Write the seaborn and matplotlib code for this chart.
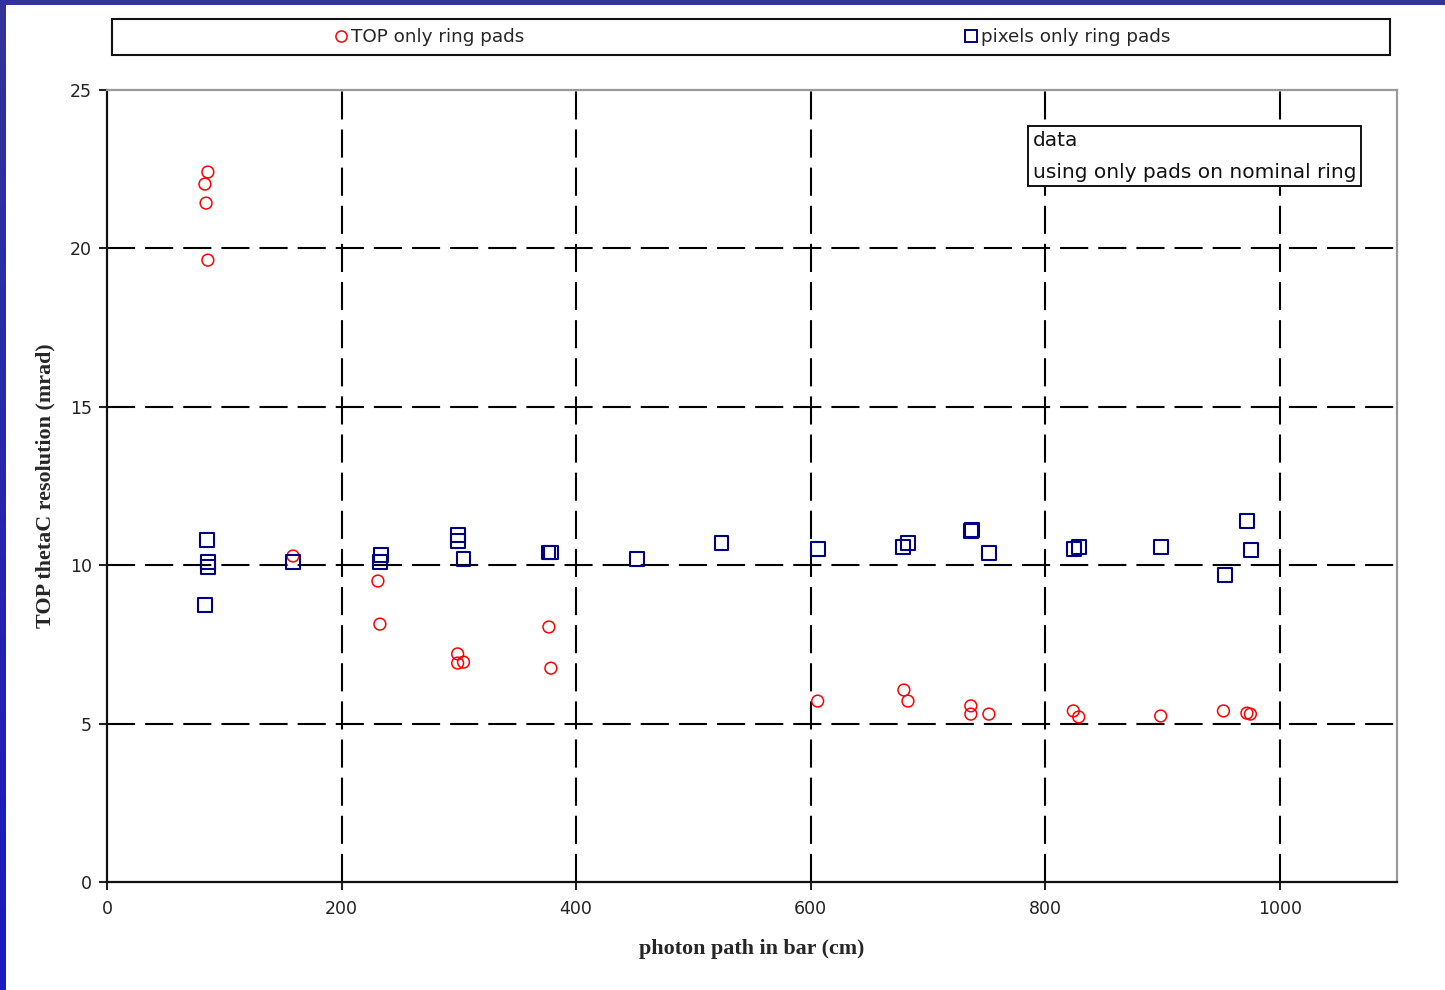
import numpy as np
import pandas as pd
import matplotlib
matplotlib.use("Agg")
import matplotlib.pyplot as plt
from matplotlib.lines import Line2D
from matplotlib.patches import Rectangle
from matplotlib.colors import LinearSegmentedColormap
import seaborn as sns

# ---- data -------------------------------------------------------------
top_path = [86, 83.5, 84.5, 86, 158.6, 231, 232.7, 299, 299, 304, 376.8, 378.5,
            606, 679.5, 683, 736.6, 736.6, 752, 824, 828.6, 898.5, 952, 972, 975]
top_res = [22.41, 22.03, 21.43, 19.63, 10.29, 9.50, 8.14, 7.20, 6.91, 6.94, 8.05, 6.75,
           5.71, 6.06, 5.71, 5.56, 5.30, 5.30, 5.40, 5.21, 5.24, 5.40, 5.33, 5.30]

pix_path = [85.3, 86, 86, 83.5, 158.6, 233.6, 232.5, 299, 299, 304, 376.5, 378.5,
            451.8, 524, 606, 678.6, 683, 736.8, 737.8, 752, 824.4, 828.6, 898.5, 953, 972, 975.3]
pix_res = [10.80, 10.10, 9.94, 8.74, 10.10, 10.32, 10.10, 10.95, 10.76, 10.20, 10.40, 10.40,
           10.20, 10.70, 10.51, 10.57, 10.70, 11.08, 11.10, 10.38, 10.51, 10.57, 10.57, 9.69, 11.40, 10.48]

series_names = ["TOP only ring pads", "pixels only ring pads"]
x_ticks = [0, 200, 400, 600, 800, 1000]
y_ticks = [0, 5, 10, 15, 20, 25]

top_df = pd.DataFrame({"path": top_path, "res": top_res})
pix_df = pd.DataFrame({"path": pix_path, "res": pix_res})

# ---- styling ----------------------------------------------------------
sns.set_style("white")
plt.rcParams["font.family"] = ["DejaVu Sans"]

RED = "#FF0000"
NAVY = "#000080"

fig = plt.figure(figsize=(14.45, 9.9), dpi=100)
fig.patch.set_facecolor("white")

W, H = 1445.0, 990.0
ax = fig.add_axes([107 / W, 1 - 882 / H, (1397 - 107) / W, (882 - 90) / H])

# dashed black grid, inner lines only
dash = (0, (13.5, 4.8))
for yv in y_ticks[1:-1]:
    ax.axhline(yv, color="black", lw=1.5, linestyle=dash, zorder=1)
for xv in x_ticks[1:]:
    ax.axvline(xv, color="black", lw=1.5, linestyle=dash, zorder=1)

sns.scatterplot(data=top_df, x="path", y="res", ax=ax, marker="o", s=72,
                facecolor="none", edgecolor=RED, linewidth=1.1, zorder=3)
sns.scatterplot(data=pix_df, x="path", y="res", ax=ax, marker="s", s=100,
                facecolor="none", edgecolor=NAVY, linewidth=1.5, zorder=4)

ax.set_xlim(0, 1100)
ax.set_ylim(0, 25)
ax.set_xticks(x_ticks)
ax.set_yticks(y_ticks)
ax.tick_params(axis="both", direction="out", length=6, width=1.5, color="#222222",
               labelsize=12.5, labelcolor="#222222", left=True, bottom=True)
ax.tick_params(axis="y", pad=5)
ax.tick_params(axis="x", pad=7)

for side in ("left", "bottom"):
    ax.spines[side].set_color("#111111")
    ax.spines[side].set_linewidth(1.6)
for side in ("top", "right"):
    ax.spines[side].set_color("#9a9a9a")
    ax.spines[side].set_linewidth(1.6)

ax.set_xlabel("photon path in bar (cm)", fontsize=15.8, fontweight="bold",
              family="Liberation Serif", labelpad=15)
ax.set_ylabel("TOP thetaC resolution (mrad)", fontsize=15.8, fontweight="bold",
              family="Liberation Serif", labelpad=10)

# annotation box
ax.text(0.7175, 0.9485, "data\nusing only pads on nominal ring", transform=ax.transAxes,
        ha="left", va="top", fontsize=14.5, color="#111111", linespacing=1.85,
        bbox=dict(boxstyle="square,pad=0.24", facecolor="white", edgecolor="#111111", lw=1.4),
        zorder=6)

# legend strip across the top
fig.add_artist(Rectangle((112 / W, 1 - 55 / H), (1390 - 112) / W, 36 / H,
                         transform=fig.transFigure, facecolor="white",
                         edgecolor="#111111", lw=1.5))
h_top = Line2D([], [], ls="none", marker="o", ms=8, mfc="none", mec=RED, mew=1.1)
h_pix = Line2D([], [], ls="none", marker="s", ms=9, mfc="none", mec=NAVY, mew=1.4)
for handle, name, cx in ((h_top, series_names[0], 430), (h_pix, series_names[1], 1068)):
    fig.legend(handles=[handle], labels=[name], loc="center",
               bbox_to_anchor=(cx / W, 1 - 37 / H), frameon=False, fontsize=13.2,
               handlelength=0.6, handletextpad=0.25, borderpad=0, borderaxespad=0)

# window frame: top bar and shaded left bar
fig.add_artist(Rectangle((0, 1 - 5 / H), 1, 5 / H, transform=fig.transFigure,
                         facecolor="#333399", edgecolor="none", zorder=10))
bar_ax = fig.add_axes([0, 0, 6 / W, 1 - 5 / H])
bar_ax.imshow(np.linspace(0, 1, 256)[:, None], aspect="auto",
              cmap=LinearSegmentedColormap.from_list("frame", ["#333399", "#1a1abf"]))
bar_ax.set_axis_off()

fig.savefig("out.png", dpi=100)
